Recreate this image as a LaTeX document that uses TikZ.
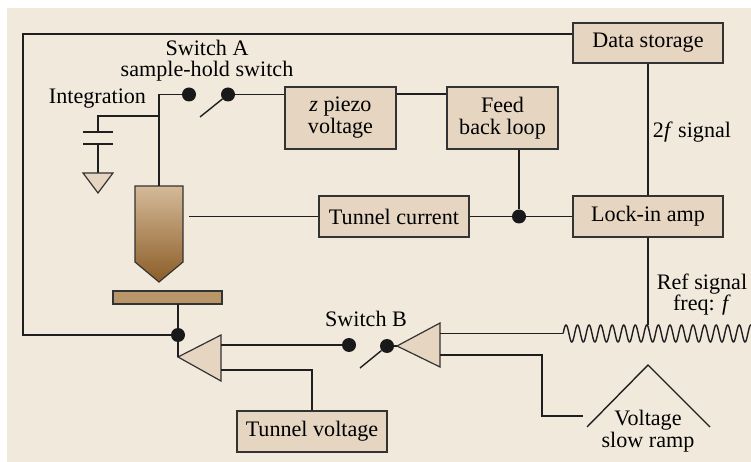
\documentclass[tikz,border=0pt]{standalone}
\usepackage{fontspec}
\setmainfont{Liberation Serif}
\usetikzlibrary{calc}
\definecolor{paper}{HTML}{F2E9DD}
\definecolor{boxfill}{HTML}{E5D5C1}
\definecolor{edge}{HTML}{333333}
\definecolor{platec}{HTML}{B9956A}
\definecolor{tiplight}{HTML}{D5BA99}
\definecolor{tipdark}{HTML}{8B5D27}
\begin{document}
\begin{tikzpicture}[x=1bp,y=-1bp,
  wire/.style={line width=1.4bp, draw=black!88},
  block/.style={draw=edge, fill=boxfill, line width=1.2bp, inner sep=0pt,
    align=center, font=\fontsize{22.2}{22}\selectfont},
  lbl/.style={font=\fontsize{22.2}{22}\selectfont, inner sep=0pt, align=center, anchor=base},
  jdot/.style={circle, fill=black!90, inner sep=0pt, minimum size=14bp},
  shapeline/.style={draw=edge, line width=1.2bp},
]
\useasboundingbox (0,0) rectangle (751,462);
\fill[white] (0,0) rectangle (751,462);
\fill[paper] (7,8) rectangle (751,462);

% blocks
\node[block, minimum width=150bp, minimum height=40bp] (store) at (648,43) {Data storage};
\node[block, minimum width=150bp, minimum height=41bp] (lockin) at (648,216.5) {Lock-in amp};
\node[block, minimum width=111bp, minimum height=62bp] (feed) at (502.5,118) {Feed\\back loop};
\node[block, minimum width=111bp, minimum height=62bp] (piezo) at (340.5,118) {\textit{z} piezo\\voltage};
\node[block, minimum width=150bp, minimum height=41bp] (tcur) at (394,216.5) {Tunnel current};
\node[block, minimum width=150bp, minimum height=41bp] (tvolt) at (312,431.5) {Tunnel voltage};

% switch contacts and junctions
\node[jdot] (sa1) at (189,94.5) {};
\node[jdot] (sa2) at (228,94.5) {};
\node[jdot] (sb1) at (349,345) {};
\node[jdot] (sb2) at (387,346) {};
\node[jdot] (jfb) at (519,216.5) {};
\node[jdot] (jtip) at (178,335) {};

% named points
\coordinate (lcorner) at (23,335);
\coordinate (tipN) at (159,186);
\coordinate (tipE) at (189,216.5);
\coordinate (ibr) at (159,116);
\coordinate (capA) at (98,132);
\coordinate (capB) at (98,144);
\coordinate (gnd) at (98,173);
\coordinate (plateS) at (178,304);
\coordinate (a1) at (178,357);
\coordinate (a1in1) at (221,345);
\coordinate (a1in2) at (221,370);
\coordinate (a2) at (397,346);
\coordinate (a2in1) at (440,333.5);
\coordinate (a2in2) at (440,355);
\coordinate (wavestart) at (563.1,333.5);
\coordinate (refend) at (648,325);
\coordinate (rbend) at (542,416);
\coordinate (rampin) at (583,416);
\coordinate (leverA) at (200,117);
\coordinate (leverB) at (360,368);
\coordinate (rampL) at (587,427);
\coordinate (rampT) at (648,365);
\coordinate (rampR) at (710,427);

% tip (shaded) and sample plate
\shade[top color=tiplight, bottom color=tipdark]
  (135,186) -- (183,186) -- (183,262) -- (159,282) -- (135,262) -- cycle;
\draw[shapeline] (135,186) -- (183,186) -- (183,262) -- (159,282) -- (135,262) -- cycle;
\filldraw[fill=platec, shapeline] (113,291) rectangle (222,304);

% amplifiers
\filldraw[fill=boxfill, shapeline] (a1) -- (221,335) -- (221,381) -- cycle;
\filldraw[fill=boxfill, shapeline] (a2) -- (440,323) -- (440,367) -- cycle;

% wiring
\draw[wire] ([yshift=9bp]store.west) -| (lcorner) -- (jtip);
\draw[wire] (store.south) -- (lockin.north);
\draw[wire] (sa2) -- (sa2 -| piezo.west);
\draw[wire] ([yshift=24bp]piezo.east) -- ([yshift=24bp]feed.west);
\draw[wire] (jfb) -- (jfb |- feed.south);
\draw[wire] (tcur.east) -- (jfb) -- (lockin.west);
\draw[wire] (tipE) -- (tcur.west);
\draw[wire] (tipN) |- (sa1);
\draw[wire] (leverA) -- (sa2);
\draw[wire] (ibr) -| (capA);
\draw[wire] ([xshift=-15bp]capA) -- ([xshift=15bp]capA);
\draw[wire] ([xshift=-15bp]capB) -- ([xshift=15bp]capB);
\draw[wire] (capB) -- (gnd);
\filldraw[fill=boxfill, shapeline] ([xshift=-15bp]gnd) -- ([xshift=15bp]gnd) -- (98,193) -- cycle;
\draw[wire] (plateS) -- (jtip) -- (a1);
\draw[wire] (a1in1) -- (sb1);
\draw[wire] (a1in2) -| (tvolt.north);
\draw[wire] (leverB) -- (sb2);
\draw[wire] (sb2) -- (a2);
\draw[wire] (a2in1) -- (wavestart);
\draw[wire] (a2in2) -| (rbend) -- (rampin);
\draw[wire] (lockin.south) -- (refend);

% reference oscillator and ramp
\draw[wire] plot[domain=563.1:751, samples=500] (\x, {333.5 - 8.5*cos(((\x-566)/11.55)*360)});
\draw[wire] (rampL) -- (rampT) -- (rampR);

% labels (anchored on the baseline of the last line)
\node[lbl] (swa) at (207,77) {Switch A\\sample-hold switch};
\node[lbl] (integ) at (97.5,104) {Integration};
\node[lbl] (swb) at (366,327) {Switch B};
\node[lbl] (twof) at (692,138) {2\textit{f} signal};
\node[lbl] (refsig) at (702,311) {Ref signal\\freq: \textit{f}};
\node[lbl] (ramp) at (648,447) {Voltage\\slow ramp};
\end{tikzpicture}
\end{document}
